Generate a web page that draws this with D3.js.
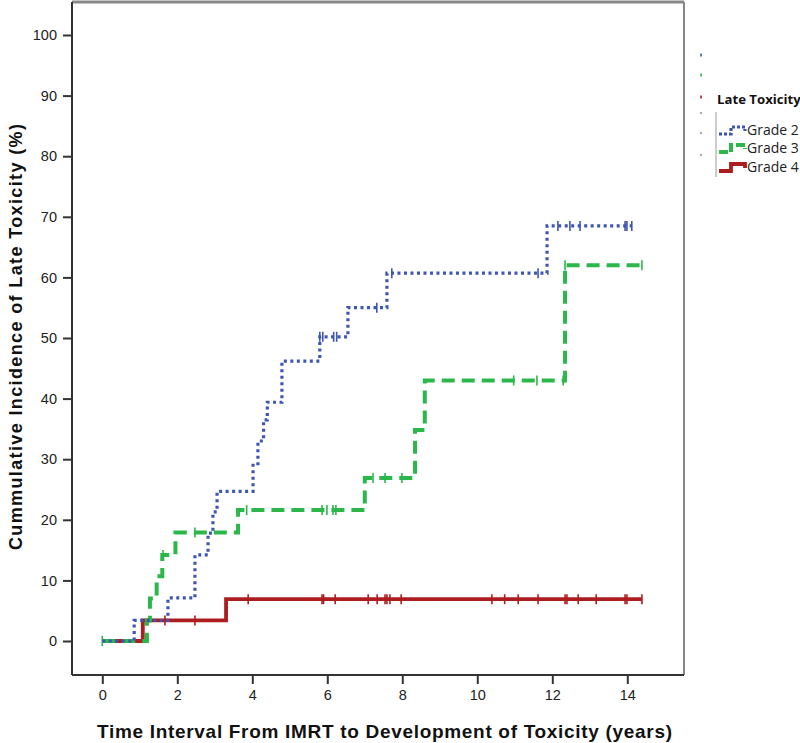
<!DOCTYPE html>
<html><head><meta charset="utf-8">
<script src="https://cdn.jsdelivr.net/npm/d3@7"></script>
<style>body{margin:0;background:#fff}svg{display:block}</style>
</head><body><svg id="c" width="800" height="743"></svg>
<script>
// ---- data ----
const yTicks = [0,10,20,30,40,50,60,70,80,90,100];
const xTicks = [0,2,4,6,8,10,12,14];
const seriesNames = ["Grade 2","Grade 3","Grade 4"];
// step points [time, cumulative %]
const grade2Steps = [[0,0],[0.85,3.4],[1.75,7.1],[2.47,14.2],[2.82,17.8],[2.95,21.3],[3.06,24.7],[4.02,29],[4.15,33],[4.3,36.5],[4.4,39.4],[4.79,46.2],[5.8,50.2],[6.55,55],[7.59,60.7],[11.86,68.5],[14.12,68.5]];
const grade3Steps = [[0,0],[1.19,3.4],[1.27,7.0],[1.45,10.7],[1.6,14.2],[1.95,17.9],[3.62,21.6],[7.0,26.9],[8.34,34.8],[8.6,43],[12.34,62],[14.39,62]];
const grade4Steps = [[0,0],[1.08,3.4],[3.3,6.9],[14.39,6.9]];
// censor times
const grade2Censor = [5.8,5.88,6.17,6.25,7.32,7.72,11.62,12.15,12.47,12.74,13.94,13.99,14.12];
const grade3Censor = [0,1.62,2.47,3.85,5.86,5.99,6.15,6.23,7.22,7.54,7.99,10.97,11.59,12.29,12.34,14.39];
const grade4Censor = [1.67,2.47,3.89,5.86,5.9,6.21,7.09,7.33,7.54,7.59,7.67,7.97,10.39,10.73,11.09,11.62,12.34,12.39,12.69,13.17,13.94,13.99,14.39];

const colors = ["#3d55b3","#2bb74a","#ad1d20"];
const svg = d3.select("#c");
const x = d3.scaleLinear().domain([0,14]).range([102.3,627.3]);
const y = d3.scaleLinear().domain([0,100]).range([641,35]);
const frame = {l:72,t:2,r:684,b:675};

// frame
svg.append("line").attr("x1",frame.l).attr("x2",frame.r).attr("y1",frame.t).attr("y2",frame.t).attr("stroke","#888").attr("stroke-width",3);
svg.append("line").attr("x1",frame.r).attr("x2",frame.r).attr("y1",frame.t).attr("y2",frame.b).attr("stroke","#888").attr("stroke-width",2);

// axes
const font = "Liberation Sans, Arial, sans-serif";
const ya = svg.append("g").attr("transform",`translate(${frame.l},0)`)
  .call(d3.axisLeft(y).tickValues(yTicks).tickSize(9).tickPadding(6));
ya.select(".domain").attr("d",`M0,${frame.t}V${frame.b}`).attr("stroke","#333").attr("stroke-width",2);
ya.selectAll(".tick line").attr("stroke","#333").attr("stroke-width",2);
ya.selectAll("text").attr("font-family",font).attr("font-size",14.5).attr("fill","#222");

const xa = svg.append("g").attr("transform",`translate(0,${frame.b})`)
  .call(d3.axisBottom(x).tickValues(xTicks).tickSize(9).tickPadding(6));
xa.select(".domain").attr("d",`M${frame.l},0H${frame.r}`).attr("stroke","#333").attr("stroke-width",2);
xa.selectAll(".tick line").attr("stroke","#333").attr("stroke-width",2);
xa.selectAll("text").attr("font-family",font).attr("font-size",14.5).attr("fill","#222");

// titles
svg.append("text").attr("x",384.5).attr("y",738).attr("text-anchor","middle")
  .attr("font-family",font).attr("font-weight","bold").attr("font-size",19).attr("fill","#111")
  .attr("textLength",575).attr("lengthAdjust","spacing")
  .text("Time Interval From IMRT to Development of Toxicity (years)");
svg.append("text").attr("transform","translate(22,337) rotate(-90)").attr("text-anchor","middle")
  .attr("font-family",font).attr("font-weight","bold").attr("font-size",18).attr("fill","#111")
  .attr("textLength",426).attr("lengthAdjust","spacing")
  .text("Cummulative Incidence of Late Toxicity (%)");

// curves
const line = d3.line().x(d=>x(d[0])).y(d=>y(d[1])).curve(d3.curveStepAfter);
const steps = [grade2Steps,grade3Steps,grade4Steps];
const censors = [grade2Censor,grade3Censor,grade4Censor];
const styles = [{w:3.2,dash:"3,3.5"},{w:4,dash:"13,7"},{w:3.8,dash:null}];
function valAt(s,t){let v=0;for(const p of s){if(p[0]<=t+1e-9)v=p[1];}return v;}
[2,1,0].forEach(i=>{
  const p = svg.append("path").datum(steps[i]).attr("d",line).attr("fill","none")
    .attr("stroke",colors[i]).attr("stroke-width",styles[i].w);
  if(styles[i].dash) p.attr("stroke-dasharray",styles[i].dash);
  svg.append("g").selectAll("line").data(censors[i]).join("line")
    .attr("x1",d=>x(d)).attr("x2",d=>x(d))
    .attr("y1",d=>y(valAt(steps[i],d))-5).attr("y2",d=>y(valAt(steps[i],d))+5)
    .attr("stroke",colors[i]).attr("stroke-width",1.6);
});

// legend
const lg = svg.append("g");
[55,75,97].forEach((yy,i)=>lg.append("rect").attr("x",700).attr("y",yy-1.5).attr("width",2).attr("height",3).attr("fill",colors[i]).attr("opacity",0.8));
[113,133,155].forEach(yy=>lg.append("rect").attr("x",700).attr("y",yy-1).attr("width",2).attr("height",2).attr("fill","#aaa"));
lg.append("text").attr("x",717).attr("y",104).attr("font-family","Open Sans, Liberation Sans, sans-serif").attr("font-weight","bold").attr("font-size",13.2).attr("fill","#111").text("Late Toxicity");
lg.append("line").attr("x1",716).attr("x2",716).attr("y1",112).attr("y2",177).attr("stroke","#bbb").attr("stroke-width",1.5);
const lgY = [130,148,167];
seriesNames.forEach((n,i)=>{
  const yy = lgY[i];
  const pts = [[719,yy+4],[731,yy+4],[731,yy-3],[745,yy-3],[745,yy+1]];
  const pth = lg.append("path").attr("d",d3.line()(pts)).attr("fill","none").attr("stroke",colors[i]).attr("stroke-width",styles[i].w);
  if(i===0) pth.attr("stroke-dasharray","3,2");
  if(i===1) pth.attr("stroke-dasharray","9,3");
  lg.append("text").attr("x",747).attr("y",yy+5).attr("font-family","Open Sans, Liberation Sans, sans-serif").attr("font-size",14).attr("fill","#222").text(n);
});
</script></body></html>
